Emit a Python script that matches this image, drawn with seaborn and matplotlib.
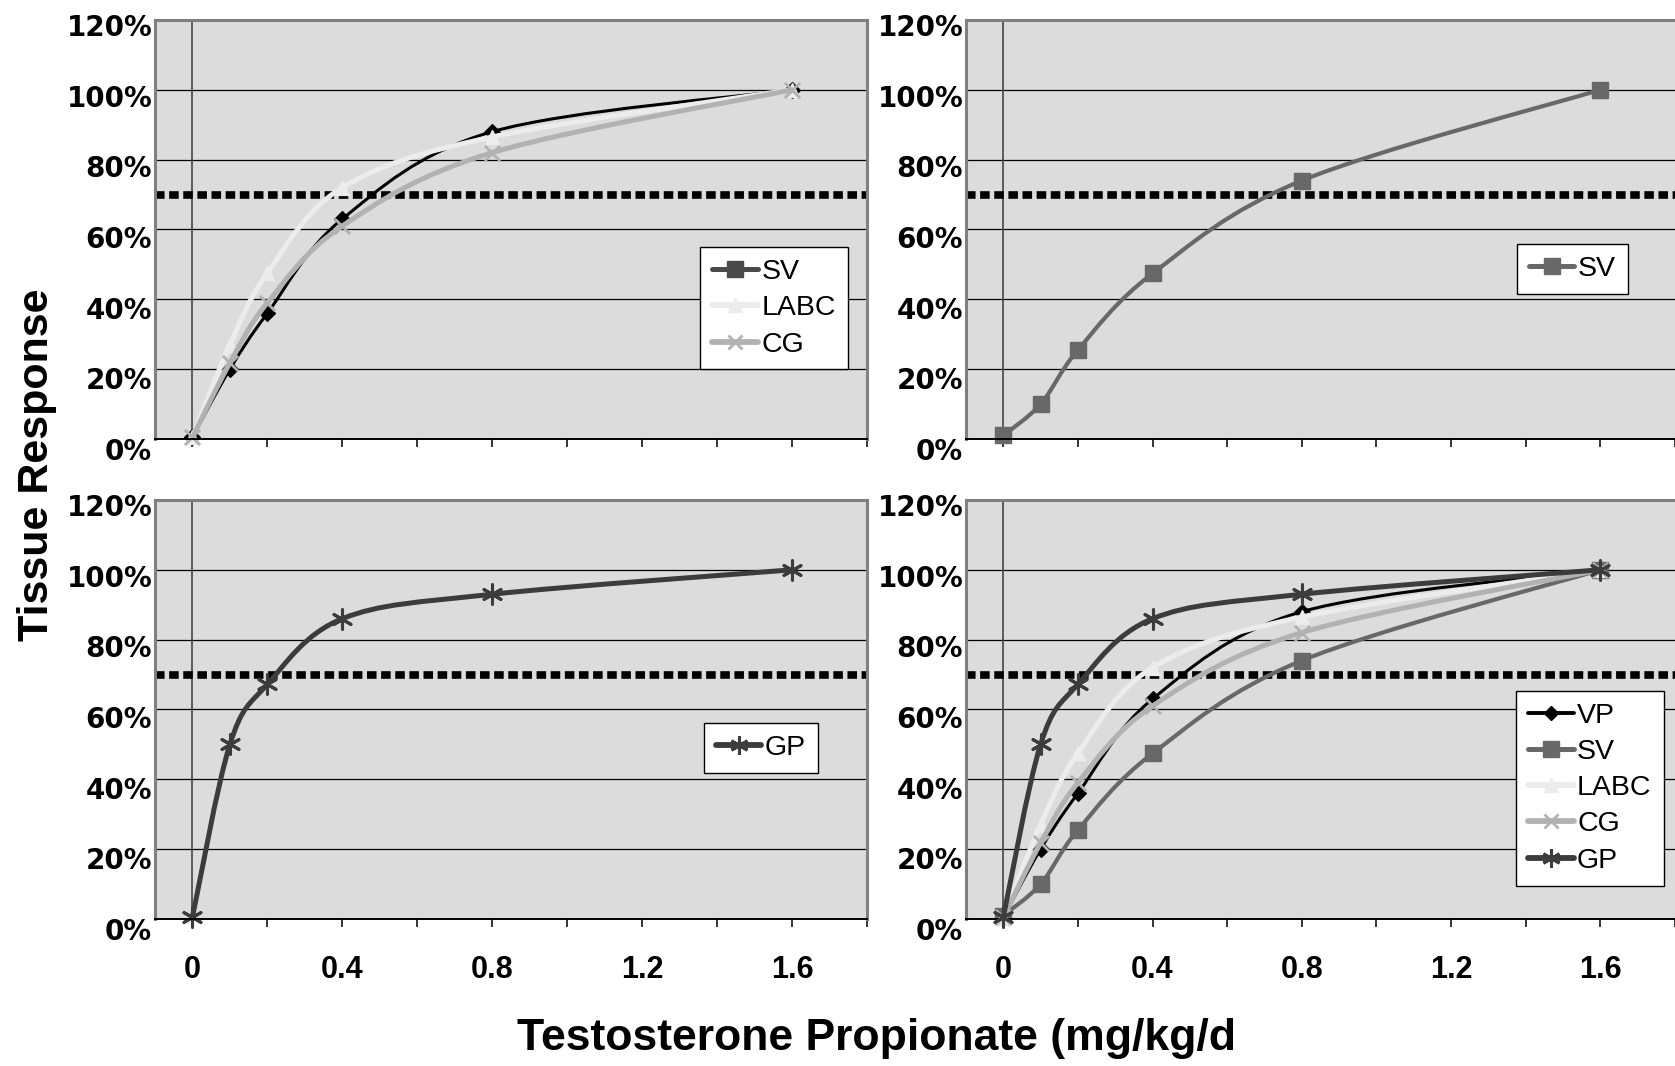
import numpy as np
import matplotlib
matplotlib.use("Agg")
import matplotlib.pyplot as plt
import seaborn as sns
from matplotlib.path import Path
from matplotlib.patches import PathPatch
from matplotlib.lines import Line2D
from matplotlib.ticker import FixedLocator
from matplotlib.transforms import ScaledTranslation

# dose levels (mg/kg/d) and relative tissue response
DOSE = [0, 0.1, 0.2, 0.4, 0.8, 1.6]
VP = [0.005, 0.20, 0.36, 0.63, 0.88, 1.00]
SV = [0.01, 0.10, 0.255, 0.474, 0.74, 1.00]
LABC = [0.005, 0.27, 0.475, 0.72, 0.865, 1.00]
CG = [0.005, 0.218, 0.39, 0.61, 0.82, 1.00]
GP = [0.005, 0.50, 0.672, 0.86, 0.93, 1.00]
THRESHOLD = 0.70

YTICKS = [0, 0.2, 0.4, 0.6, 0.8, 1.0, 1.2]
YTICK_LABELS = ["0%", "20%", "40%", "60%", "80%", "100%", "120%"]
XTICKS = [0, 0.4, 0.8, 1.2, 1.6]
XTICK_LABELS = ["0", "0.4", "0.8", "1.2", "1.6"]
XMINOR = [0.2, 0.6, 1.0, 1.4, 1.8]

series = {"VP": VP, "SV": SV, "LABC": LABC, "CG": CG, "GP": GP}

# line colour, line width, marker, marker size, marker edge width
style = {
    "VP": dict(color="#000000", lw=2.2, marker="D", ms=8, mew=1),
    "SV": dict(color="#686868", lw=3.0, marker="s", ms=11.5, mew=1),
    "LABC": dict(color="#ececec", lw=3.6, marker="^", ms=10, mew=1),
    "CG": dict(color="#b2b2b2", lw=3.6, marker="x", ms=11, mew=2),
    "GP": dict(color="#3c3c3c", lw=3.6, marker=(6, 2, 0), ms=14, mew=2.2),
}

sns.set_style("white")
plt.rcParams["axes.unicode_minus"] = False
plt.rcParams["text.color"] = "black"
plt.rcParams["xtick.color"] = "black"
plt.rcParams["ytick.color"] = "black"
plt.rcParams["xtick.labelcolor"] = "black"
plt.rcParams["ytick.labelcolor"] = "black"


def smooth_path(xs, ys):
    # Excel-style smoothed line: cubic Bezier through the data points
    pts = np.column_stack([xs, ys]).astype(float)
    n = len(pts)
    verts = [pts[0]]
    codes = [Path.MOVETO]
    for i in range(n - 1):
        p0 = pts[i - 1] if i > 0 else pts[i]
        p1, p2 = pts[i], pts[i + 1]
        p3 = pts[i + 2] if i + 2 < n else pts[i + 1]
        verts += [p1 + (p2 - p0) / 6, p2 - (p3 - p1) / 6, p2]
        codes += [Path.CURVE4] * 3
    return Path(verts, codes)


def draw_series(ax, name, z):
    st = style[name]
    vals = series[name]
    ax.add_patch(PathPatch(smooth_path(DOSE, vals), facecolor="none",
                           edgecolor=st["color"], lw=st["lw"], zorder=z,
                           joinstyle="round", capstyle="round"))
    filled = st["marker"] in ("D", "s", "^")
    sns.scatterplot(x=DOSE, y=vals, ax=ax, marker=st["marker"], s=st["ms"] ** 2,
                    color=st["color"], edgecolor=st["color"] if filled else None,
                    linewidth=st["mew"], zorder=z + 0.5, legend=False, clip_on=False)


def legend_handle(name, color=None, marker=None):
    st = style[name]
    c = color or st["color"]
    m = marker or st["marker"]
    return Line2D([], [], color=c, lw=st["lw"] + 0.6, marker=m, markersize=st["ms"] * 0.95,
                  markerfacecolor=c, markeredgecolor=c, markeredgewidth=st["mew"])


def setup_axes(ax, right_col, bottom_row):
    ax.set_facecolor("#dcdcdc")
    ax.set_xlim(-0.1, 1.8)
    ax.set_ylim(0, 1.2)
    for side in ["left", "top", "right"]:
        ax.spines[side].set_color("#808080")
        ax.spines[side].set_linewidth(2.2)
    ax.spines["bottom"].set_color("black")
    ax.spines["bottom"].set_linewidth(1.4)
    ax.spines["bottom"].set_zorder(6)
    if right_col:
        ax.spines["right"].set_visible(False)
    ax.yaxis.set_major_locator(FixedLocator(YTICKS))
    ax.set_yticklabels(YTICK_LABELS, fontfamily="DejaVu Sans", fontweight="heavy",
                       fontsize=20, color="black")
    ax.tick_params(axis="y", length=0, pad=2)
    ax.set_xticks(XTICKS)
    ax.xaxis.set_minor_locator(FixedLocator(XMINOR))
    ax.tick_params(axis="x", which="both", direction="out", length=6, width=1.1,
                   color="black", bottom=True, pad=20)
    if bottom_row:
        ax.set_xticklabels(XTICK_LABELS, fontfamily="Liberation Sans", fontweight="bold",
                           fontsize=22, color="black")
    else:
        ax.set_xticklabels([])
    ax.grid(axis="y", color="black", lw=0.9)
    ax.grid(axis="x", visible=False)
    ax.set_axisbelow(True)
    ax.axvline(0, color="#454545", lw=1.2, zorder=1)
    ax.axhline(THRESHOLD, color="black", lw=5.5, linestyle=(0, (1.25, 0.6)),
               dash_capstyle="butt", zorder=2)
    # tick labels sit a little below their gridlines, more so near the bottom
    for val, lab in zip(YTICKS, ax.get_yticklabels()):
        dy = (5 + 5 * (1.2 - val) / 1.2) / 100
        lab.set_transform(lab.get_transform() + ScaledTranslation(0, -dy, ax.figure.dpi_scale_trans))


def add_legend(ax, handles, labels, anchor):
    leg = ax.legend(handles, labels, loc="upper left", bbox_to_anchor=anchor,
                    borderaxespad=0, frameon=True, fancybox=False, framealpha=1,
                    edgecolor="black", facecolor="white", handlelength=1.6,
                    handletextpad=0.12, labelspacing=0.36, borderpad=0.42,
                    prop={"family": "Liberation Sans", "size": 20.5})
    leg.get_frame().set_linewidth(1.0)
    leg.set_zorder(20)


fig = plt.figure(figsize=(16.75, 10.66), dpi=100)
ax_tl = fig.add_axes([0.0925, 0.5882, 0.4251, 0.3931])
ax_tr = fig.add_axes([0.5767, 0.5882, 0.4233, 0.3931])
ax_bl = fig.add_axes([0.0925, 0.1379, 0.4251, 0.3931])
ax_br = fig.add_axes([0.5767, 0.1379, 0.4233, 0.3931])

setup_axes(ax_tl, False, False)
setup_axes(ax_tr, True, False)
setup_axes(ax_bl, False, True)
setup_axes(ax_br, True, True)

# top left: VP, LABC, CG
for i, name in enumerate(["VP", "LABC", "CG"]):
    draw_series(ax_tl, name, 3 + i)
add_legend(ax_tl,
           [legend_handle("SV", color="#4a4a4a"), legend_handle("LABC"), legend_handle("CG")],
           ["SV", "LABC", "CG"], (0.766, 0.458))

# top right: SV
draw_series(ax_tr, "SV", 3)
add_legend(ax_tr, [legend_handle("SV")], ["SV"], (0.777, 0.466))

# bottom left: GP
draw_series(ax_bl, "GP", 3)
add_legend(ax_bl, [legend_handle("GP")], ["GP"], (0.771, 0.468))

# bottom right: all five
for i, name in enumerate(["VP", "SV", "LABC", "CG", "GP"]):
    draw_series(ax_br, name, 3 + i)
add_legend(ax_br, [legend_handle(n) for n in series], list(series), (0.776, 0.545))

fig.text(0.022, 0.564, "Tissue Response", rotation=90, ha="center", va="center",
         fontfamily="Liberation Sans", fontweight="bold", fontsize=31, color="black")
fig.text(0.523, 0.026, "Testosterone Propionate (mg/kg/d", ha="center", va="center",
         fontfamily="Liberation Sans", fontweight="bold", fontsize=32, color="black")

fig.savefig("out.png", dpi=100)
